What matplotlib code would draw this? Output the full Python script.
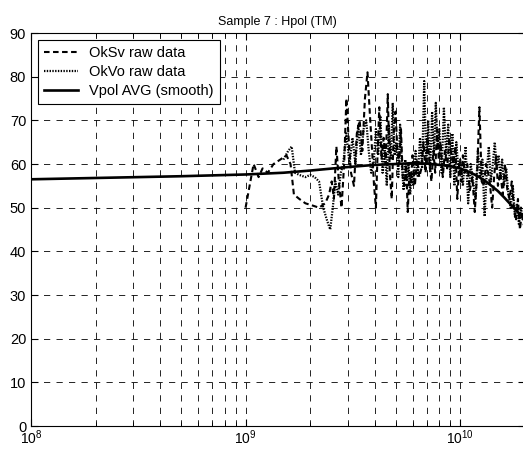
import numpy as np
import matplotlib
matplotlib.use('Agg')
import matplotlib.pyplot as plt

plt.rcParams['font.family'] = ['Liberation Sans', 'DejaVu Sans']
plt.rcParams['lines.scale_dashes'] = False

# frequency in GHz, level in dB
sv_freq = [1.00, 1.09, 1.15, 1.20, 1.27, 1.35, 1.45, 1.55, 1.62, 1.68, 1.78, 1.90, 2.05, 2.20,
           2.35, 2.45, 2.52, 2.58, 2.65, 2.72, 2.80, 2.88, 2.95, 3.02, 3.10, 3.20, 3.30, 3.40,
           3.50, 3.60, 3.70, 3.80, 3.90, 3.97, 4.05, 4.12, 4.20, 4.30, 4.40, 4.50, 4.60, 4.70,
           4.80, 4.90, 5.00, 5.10, 5.20, 5.30, 5.40, 5.50, 5.60, 5.70, 5.80, 5.90, 6.00, 6.15,
           6.30, 6.45, 6.60, 6.75, 6.90, 7.05, 7.20, 7.35, 7.50, 7.65, 7.80, 7.95, 8.10, 8.30,
           8.50, 8.70, 8.90, 9.10, 9.30, 9.50, 9.70, 9.90, 10.1, 10.3, 10.5, 10.8, 11.1, 11.4,
           11.7, 12.0, 12.3, 12.6, 12.9, 13.2, 13.5, 13.8, 14.1, 14.4, 14.7, 15.0, 15.4, 15.8,
           16.2, 16.6, 17.0, 17.4, 17.8, 18.2, 18.6, 19.0, 19.4, 19.8]
sv_val = [50, 60, 57, 59, 58, 60, 61, 62, 60, 53, 52, 51, 50.5, 50,
          51, 53, 56, 52, 64, 56, 50, 60, 75, 66, 58, 55, 67, 70,
          63, 75, 81, 71, 62, 55, 50, 62, 73, 61, 66, 60, 76, 58,
          52, 67, 72, 63, 60, 68, 57, 55, 60, 49, 58, 56, 62, 55,
          61, 57, 59, 65, 58, 66, 60, 56, 63, 58, 68, 61, 65, 57,
          63, 59, 66, 62, 60, 64, 52, 60, 56, 62, 58, 60, 54, 57,
          49, 58, 73, 56, 55, 60, 58, 55, 50, 57, 62, 55, 58, 53,
          60, 54, 52, 56, 50, 47, 52, 45, 49, 46]

vo_freq = [1.50, 1.58, 1.64, 1.70, 1.78, 1.90, 2.00, 2.10, 2.20, 2.30, 2.40, 2.48, 2.55, 2.62,
           2.70, 2.78, 2.85, 2.95, 3.05, 3.15, 3.25, 3.35, 3.45, 3.55, 3.65, 3.75, 3.85, 3.95,
           4.05, 4.15, 4.25, 4.35, 4.45, 4.55, 4.65, 4.75, 4.85, 4.95, 5.05, 5.15, 5.25, 5.35,
           5.45, 5.55, 5.65, 5.75, 5.85, 5.95, 6.05, 6.20, 6.35, 6.50, 6.65, 6.80, 6.95, 7.10,
           7.25, 7.40, 7.55, 7.70, 7.85, 8.00, 8.20, 8.40, 8.60, 8.80, 9.00, 9.20, 9.40, 9.60,
           9.80, 10.0, 10.3, 10.6, 10.9, 11.2, 11.5, 11.8, 12.1, 12.4, 12.7, 13.0, 13.3, 13.6,
           13.9, 14.2, 14.5, 14.8, 15.1, 15.4, 15.7, 16.0, 16.4, 16.8, 17.2, 17.6, 18.0, 18.4,
           18.8, 19.2, 19.6, 20.0]
vo_val = [61, 63, 64, 58, 57.5, 57, 57.5, 57, 56, 50, 47, 45, 50, 56,
          53, 58, 60, 67, 60, 66, 60, 69, 62, 68, 70, 63, 58, 60,
          68, 62, 71, 58, 64, 55, 69, 61, 74, 62, 65, 57, 69, 60,
          54, 61, 56, 60, 53, 58, 55, 63, 57, 66, 59, 79, 60, 70,
          58, 72, 62, 74, 64, 68, 58, 73, 62, 69, 57, 67, 55, 65,
          59, 61, 55, 64, 51, 60, 56, 52, 63, 57, 61, 48, 58, 64,
          56, 60, 65, 59, 62, 57, 61, 55, 59, 53, 50, 55, 48, 51,
          46, 50, 47, 48]

avg_freq = [0.1, 0.2, 0.5, 1.0, 1.5, 2.0, 3.0, 4.0, 5.0, 6.0, 7.0, 8.0, 9.0, 10.0,
            11.0, 12.0, 13.0, 14.0, 15.0, 16.0, 17.0, 18.0, 19.0, 20.0]
avg_val = [56.5, 56.8, 57.2, 57.6, 58.0, 58.5, 59.3, 59.8, 60.0, 60.2, 60.1, 59.8, 59.5, 59.0,
           58.2, 57.3, 56.2, 55.0, 53.8, 52.4, 51.0, 49.7, 48.5, 47.5]

fig = plt.figure(figsize=(5.23, 4.49), dpi=100)
ax = fig.add_axes([0.0593, 0.0512, 0.944, 0.8753])

ax.plot(np.array(sv_freq) * 1e9, sv_val, color='k', lw=1.5, linestyle=(0, (4, 2.5)), label='OkSv raw data')
ax.plot(np.array(vo_freq) * 1e9, vo_val, color='k', lw=1.6, linestyle=(0, (1, 1)), label='OkVo raw data')
ax.plot(np.array(avg_freq) * 1e9, avg_val, color='k', lw=1.9, label='Vpol AVG (smooth)')

ax.set_xscale('log')
ax.set_xlim(1e8, 2e10)
ax.set_ylim(0, 90)
ax.set_yticks(range(0, 91, 10))
ax.grid(True, which='both', axis='x', color='k', lw=0.6, linestyle=(0, (4.5, 4.5)))
ax.grid(True, which='major', axis='y', color='k', lw=0.6, linestyle=(0, (4.5, 4.5)))
ax.tick_params(which='both', direction='in', top=True, right=True, labelsize=10.5)
ax.tick_params(axis='x', labelsize=10, pad=2)
ax.tick_params(which='major', length=5)
ax.tick_params(which='minor', length=3)
for s in ax.spines.values():
    s.set_linewidth(0.8)

ax.set_title('Sample 7 : Hpol (TM)', fontsize=9, pad=6)
leg = ax.legend(loc='upper left', fontsize=10.5, fancybox=False, framealpha=1,
                edgecolor='k', handlelength=2.3, borderaxespad=0.5, labelspacing=0.35)
leg.get_frame().set_linewidth(0.8)

plt.savefig('out.png', dpi=100)
